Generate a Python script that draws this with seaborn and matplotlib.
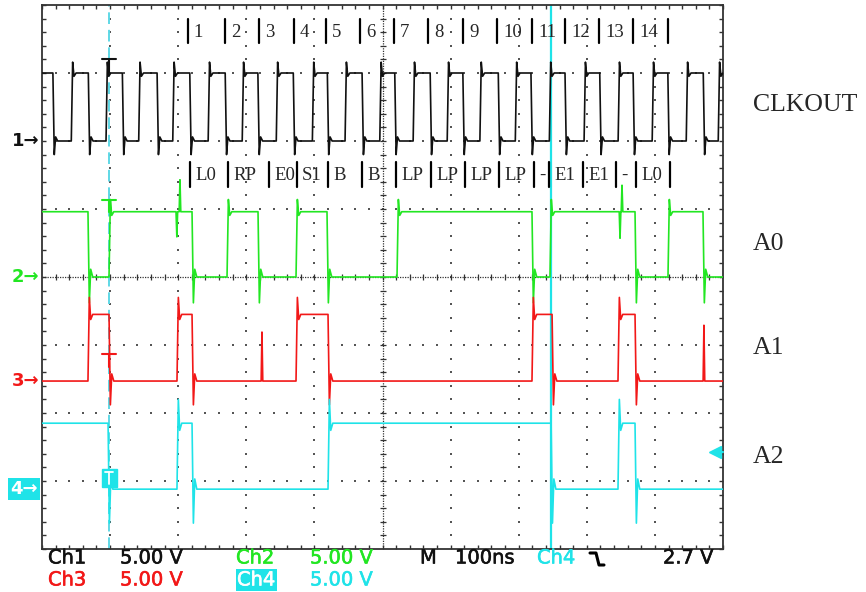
import numpy as np
import pandas as pd
import seaborn as sns
import matplotlib.pyplot as plt
import matplotlib.patheffects as pe
from matplotlib.lines import Line2D
from matplotlib.patches import Rectangle
from matplotlib.ticker import MultipleLocator
from matplotlib.transforms import blended_transform_factory

# time in ns (100 ns/div, 10 div), vertical in divisions (-4..4)
channels = ["CLKOUT", "A0", "A1", "A2"]
colors = ["#111111", "#22e622", "#f21818", "#1fe3e8"]
ground = [2.0, 0.0, -1.53, -3.12]
high = [3.0, 0.96, -0.55, -2.15]
start_high = [True, True, False, True]

clk_rise = [43, 94, 142, 192, 244, 294, 344, 397, 445, 496, 545, 595, 643, 695, 745, 796, 846, 896, 946, 993]
clk_fall = [16, 68, 118, 169, 217, 269, 317, 369, 419, 470, 518, 570, 618, 670, 718, 768, 819, 868, 919, 971]
a0_edges = [67.5, 98.4, 220.3, 271.7, 317.2, 373.0, 418.5, 521.3, 719.5, 745.9, 870.8, 919.2, 970.6]
a1_edges = [67.5, 98.4, 198.2, 220.3, 373.0, 420.0, 719.5, 749.0, 845.8, 870.8]
a2_edges = [97.0, 198.2, 220.3, 420.0, 747.6, 845.8, 870.8]

overshoot = [0.16, 0.18, 0.25, 0.35]
undershoot = [0.2, 0.38, 0.35, 0.5]

a0_glitch_t = [198.0, 202.6, 848.8, 851.7]
a0_glitch_v = [0.59, 1.43, 0.57, 1.35]
a1_glitch_t = [323.0, 972.0]
a1_glitch_v = [-0.81, -0.71]

cycle_marks = [214, 269, 319, 370, 417, 467, 517, 567, 618, 668, 720, 768, 818, 868, 919]
cycle_labels = [str(i) for i in range(1, 15)]
state_marks = [217, 273, 333, 374, 420, 470, 520, 571, 621, 671, 722.5, 744.5, 794, 843, 872, 922]
state_labels = ["L0", "RP", "E0", "S1", "B", "B", "LP", "LP", "LP", "LP", "-", "E1", "E1", "-", "L0"]

trigger_t = 98.0
cursor_t = 747.6
trigger_level = -2.58

label_y_px = [105, 244, 348, 457]


def build_trace(edges, lo, hi, up, os_, us_, gt=(), gv=()):
    level = hi if up else lo
    pts = [(0.0, level)]
    for t in edges:
        pts.append((t, level))
        level = lo if level == hi else hi
        kick = os_ if level == hi else -us_
        pts += [(t + 2, level + kick), (t + 4, level - 0.3 * kick), (t + 7, level)]
    pts.append((1000.0, level))
    xs, ys = map(np.array, zip(*pts))
    for t, v in zip(gt, gv):
        base = np.interp(t, xs, ys)
        pts += [(t - 1.2, base), (t, v), (t + 1.2, base)]
    pts.sort(key=lambda p: p[0])
    return pts


edge_sets = [sorted(clk_rise + clk_fall), a0_edges, a1_edges, a2_edges]
glitches = [((), ()), (a0_glitch_t, a0_glitch_v), (a1_glitch_t, a1_glitch_v), ((), ())]
frames = []
for i, ch in enumerate(channels):
    p = build_trace(edge_sets[i], ground[i], high[i], start_high[i],
                    overshoot[i], undershoot[i], *glitches[i])
    frames.append(pd.DataFrame({"t": [q[0] for q in p], "v": [q[1] for q in p], "ch": ch}))
df = pd.concat(frames, ignore_index=True)

sns.set_theme(style="white")
W, H = 866, 592
fig = plt.figure(figsize=(W / 100, H / 100), dpi=100)
ax = fig.add_axes([42 / W, 1 - 549 / H, (723 - 42) / W, (549 - 5) / H])
ax.set_xlim(0, 1000)
ax.set_ylim(-4, 4)

# graticule
gx, gy = [], []
for xv in range(100, 1000, 100):
    if xv != 500:
        for yv in np.arange(-3.8, 3.9, 0.2):
            gx.append(xv); gy.append(yv)
for yv in [-3, -2, -1, 1, 2, 3]:
    for xv in range(20, 1000, 20):
        gx.append(xv); gy.append(yv)
ax.scatter(gx, gy, s=1.6, marker="s", color="#555555", linewidths=0, zorder=1)
ax.axhline(0, color="#333333", lw=0.9, ls=(0, (1, 1)), zorder=1)
ax.axvline(500, color="#333333", lw=0.9, ls=(0, (1, 1)), zorder=1)
ax.scatter(np.arange(20, 1000, 20), np.zeros(49), marker="|", s=22, color="#333333", linewidths=0.9, zorder=1)
ax.scatter(np.full(39, 500), np.arange(-3.8, 3.9, 0.2), marker="_", s=22, color="#333333", linewidths=0.9, zorder=1)

ax.xaxis.set_major_locator(MultipleLocator(100))
ax.xaxis.set_minor_locator(MultipleLocator(20))
ax.yaxis.set_major_locator(MultipleLocator(1))
ax.yaxis.set_minor_locator(MultipleLocator(0.2))
ax.tick_params(which="both", direction="in", length=3, width=1, color="#333333",
               top=True, right=True, bottom=True, left=True,
               labelbottom=False, labelleft=False)
for s in ax.spines.values():
    s.set_color("#333333")
    s.set_linewidth(1.3)

# cursors
ax.axvline(trigger_t, color="#5fd8e6", lw=1.4, ls=(0, (6, 3)), zorder=2)
ax.axvline(cursor_t, color=colors[3], lw=1.6, zorder=2)

sns.lineplot(data=df, x="t", y="v", hue="ch", palette=colors, estimator=None,
             sort=False, lw=1.2, legend=False, ax=ax, zorder=3)
ax.set_xlabel("")
ax.set_ylabel("")

# trigger position markers
for i, (bv, sv) in enumerate([(3.2, 3.0), (1.13, 0.96), (-1.13, -1.33)]):
    ax.plot([trigger_t - 10, trigger_t + 10], [bv, bv], color=colors[i], lw=1.5, zorder=4)
    ax.plot([trigger_t, trigger_t], [bv, sv], color=colors[i], lw=1.5, zorder=4)
ax.add_patch(Rectangle((88, -3.09), 22, 0.27, color=colors[3], zorder=4))
ax.plot([trigger_t - 6, trigger_t + 6], [-2.87, -2.87], color="white", lw=1.3, zorder=5)
ax.plot([trigger_t, trigger_t], [-2.87, -3.05], color="white", lw=1.3, zorder=5)

# trigger level arrow
ax.plot([984, 1000], [trigger_level, trigger_level], color=colors[3], lw=1.5, clip_on=False, zorder=4)
ax.plot(988, trigger_level, marker="<", ms=8, color=colors[3], clip_on=False, zorder=4)

# bus state annotations
serif = "Liberation Serif"
for m in cycle_marks:
    ax.plot([m, m], [3.44, 3.79], color="black", lw=1.6, zorder=4)
for m, lab in zip(cycle_marks, cycle_labels):
    ax.text(m + 9, 3.6, lab, fontsize=13.5, family=serif, va="center", ha="left", zorder=4)
for m in state_marks:
    ax.plot([m, m], [1.32, 1.69], color="black", lw=1.6, zorder=4)
for m, lab in zip(state_marks, state_labels):
    ax.text(m + 8, 1.5, lab, fontsize=13.5, family=serif, va="center", ha="left", zorder=4)

# ground markers on the left
tr = blended_transform_factory(ax.transAxes, ax.transData)
for i in range(3):
    ax.text(-0.004, ground[i], f"{i + 1}\u2192", transform=tr, ha="right", va="center",
            fontsize=13, color=colors[i], family="DejaVu Sans", weight="bold", clip_on=False)
ax.text(-0.006, ground[3], "4\u2192", transform=tr, ha="right", va="center",
        fontsize=13, color="white", family="DejaVu Sans", weight="bold", clip_on=False,
        bbox=dict(facecolor=colors[3], edgecolor="none", pad=1.5))

# signal names on the right
for name, py in zip(channels, label_y_px):
    fig.text(753 / W, 1 - py / H, name, fontsize=18.5, family=serif, va="center", ha="left")

# scope readout
sans = "DejaVu Sans"
row1 = 1 - 558 / H
row2 = 1 - 580 / H
readout = [
    (48, row1, "Ch1", colors[0]), (120, row1, "5.00 V", colors[0]),
    (236, row1, "Ch2", colors[1]), (310, row1, "5.00 V", colors[1]),
    (420, row1, "M", colors[0]), (455, row1, "100ns", colors[0]),
    (537, row1, "Ch4", colors[3]), (663, row1, "2.7 V", colors[0]),
    (48, row2, "Ch3", colors[2]), (120, row2, "5.00 V", colors[2]),
    (310, row2, "5.00 V", colors[3]),
]
for px, fy, s, c in readout:
    fig.text(px / W, fy, s, fontsize=14, family=sans, color=c, va="center", ha="left",
             path_effects=[pe.withStroke(linewidth=0.4, foreground=c)])
fig.text(237 / W, row2, "Ch4", fontsize=14, family=sans, color="white", va="center", ha="left",
         path_effects=[pe.withStroke(linewidth=0.4, foreground="white")],
         bbox=dict(facecolor=colors[3], edgecolor="none", pad=1.0))
fig.add_artist(Line2D([590 / W, 596 / W, 599 / W, 604 / W],
                      [1 - 553 / H, 1 - 553 / H, 1 - 565 / H, 1 - 565 / H],
                      color="black", lw=2.2, transform=fig.transFigure))

fig.savefig("out.png", dpi=100)
